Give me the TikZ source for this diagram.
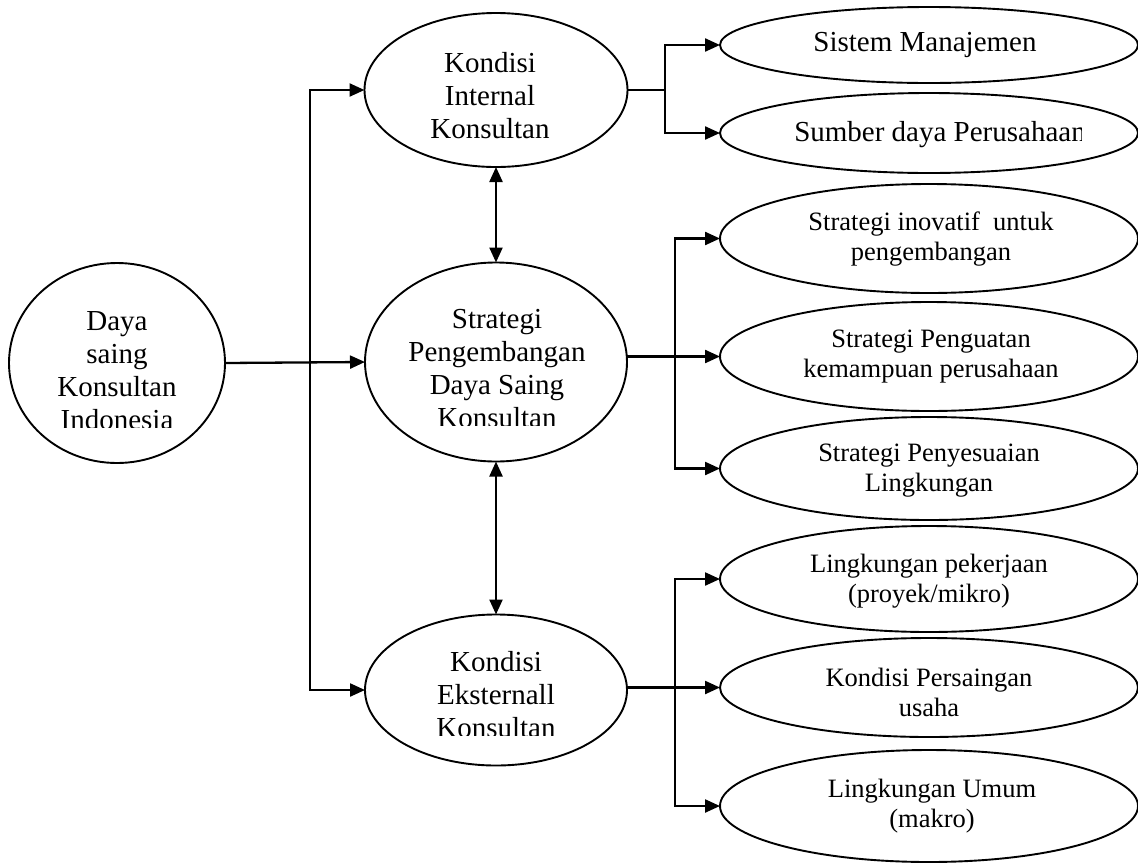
\documentclass[tikz,border=0pt]{standalone}
\usepackage{fontspec}
\setmainfont{Liberation Serif}
\usetikzlibrary{arrows.meta,shapes.geometric}
\begin{document}
\begin{tikzpicture}[x=1pt,y=-1pt,
  oval/.style={ellipse,draw,line width=1.9pt,inner sep=0pt,outer sep=0pt},
  big/.style={align=center,font=\fontsize{29}{33}\selectfont,inner sep=0pt},
  small/.style={align=center,font=\fontsize{26.5}{30}\selectfont,inner sep=0pt},
  link/.style={line width=2.3pt},
  arr/.style={link,-{Triangle[length=15pt,width=13pt]}},
  darr/.style={link,{Triangle[length=15pt,width=13pt]}-{Triangle[length=15pt,width=13pt]}}]
\useasboundingbox (0,0) rectangle (1138,863);

% main ovals
\node[oval,minimum width=216,minimum height=200] (daya)  at (117,363) {};
\node[oval,minimum width=263,minimum height=154] (int)   at (496,90)  {};
\node[oval,minimum width=262,minimum height=199] (strat) at (496,362) {};
\node[oval,minimum width=262,minimum height=151] (ext)   at (496,690) {};

% right-hand ovals
\node[oval,minimum width=418,minimum height=76]  (sis)  at (929,45)    {};
\node[oval,minimum width=418,minimum height=80]  (sum)  at (929,133)   {};
\node[oval,minimum width=418,minimum height=109] (inov) at (929,238.5) {};
\node[oval,minimum width=418,minimum height=109] (pen)  at (929,356.5) {};
\node[oval,minimum width=418,minimum height=103] (peny) at (929,468.5) {};
\node[oval,minimum width=418,minimum height=106] (pek)  at (929,579)   {};
\node[oval,minimum width=418,minimum height=99]  (pers) at (929,687.5) {};
\node[oval,minimum width=418,minimum height=112] (umum) at (929,806)   {};

% labels (text boxes cut off at their lower or right edge)
\begin{scope}
  \clip (0,0) rectangle (300,427.4);
  \node[big] (daya-t) at (117,371) {Daya\\saing\\Konsultan\\Indonesia};
\end{scope}
\node[big] (int-t) at (490,95.5) {Kondisi\\Internal\\Konsultan};
\begin{scope}
  \clip (340,250) rectangle (650,425.6);
  \node[big] (strat-t) at (497,369) {Strategi\\Pengembangan\\Daya Saing\\Konsultan};
\end{scope}
\begin{scope}
  \clip (340,600) rectangle (650,735.7);
  \node[big] (ext-t) at (496,695) {Kondisi\\Eksternall\\Konsultan};
\end{scope}
\node[big] (sis-t) at (925,45) {Sistem Manajemen};
\begin{scope}
  \clip (700,90) rectangle (1081,180);
  \node[big] (sum-t) at (940,135) {Sumber daya Perusahaan};
\end{scope}
\node[small] (inov-t) at (931,239) {Strategi inovatif\ \ untuk\\pengembangan};
\node[small] (pen-t)  at (931,357) {Strategi Penguatan\\kemampuan perusahaan};
\node[small] (peny-t) at (929,471) {Strategi Penyesuaian\\Lingkungan};
\node[small] (pek-t)  at (929,581) {Lingkungan pekerjaan\\(proyek/mikro)};
\node[small] (pers-t) at (929,692) {Kondisi Persaingan\\usaha};
\node[small] (umum-t) at (932,806) {Lingkungan Umum\\(makro)};

% connectors from the left oval
\coordinate (jL) at (310,363);
\draw[arr] (daya.east) -- (strat.west);
\draw[arr] (jL) |- (int.west);
\draw[arr] (jL) |- (ext.west);

% two-way links between the middle ovals
\draw[darr] (int.south) -- (strat.north);
\draw[darr] (strat.south) -- (ext.north);

% internal conditions
\coordinate (jI) at (665,90);
\draw[link] (int.east) -- (jI);
\draw[arr] (jI) |- (sis.west);
\draw[arr] (jI) |- (sum.west);

% strategies
\coordinate (jS) at (675,356.5);
\draw[arr] (strat.east |- pen.west) -- (pen.west);
\draw[arr] (jS) |- (inov.west);
\draw[arr] (jS) |- (peny.west);

% external conditions
\coordinate (jE) at (675,687.5);
\draw[arr] (ext.east |- pers.west) -- (pers.west);
\draw[arr] (jE) |- (pek.west);
\draw[arr] (jE) |- (umum.west);
\end{tikzpicture}
\end{document}
